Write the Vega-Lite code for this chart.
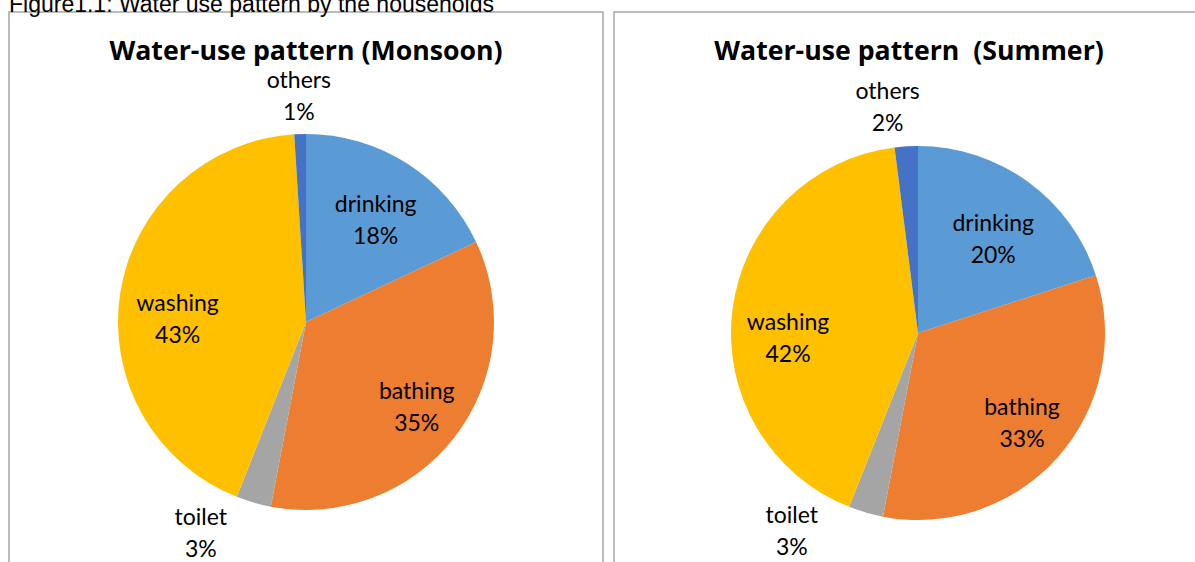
{
  "$schema": "https://vega.github.io/schema/vega-lite/v6.json",
  "background": "white",
  "padding": {"left": 8, "top": -6, "right": 0, "bottom": 0},
  "title": {"text": "Figure1.1: Water use pattern by the households", "anchor": "start", "frame": "group", "font": "Liberation Sans", "fontSize": 23, "fontWeight": "normal", "color": "#000000", "baseline": "alphabetic", "offset": -24},
  "config": {
    "view": {"stroke": "#A6A6A6", "strokeWidth": 1.5},
    "style": {"cell": {"stroke": "#A6A6A6", "strokeWidth": 1.5}},
    "concat": {"spacing": 9},
    "text": {"font": "Lato", "fontSize": 23, "color": "#000000", "lineBreak": "\n", "lineHeight": 32}
  },
  "datasets": {
    "monsoon": [
      {"use": "drinking", "pct": 18, "order": 1, "label": "drinking\n18%"},
      {"use": "bathing", "pct": 35, "order": 2, "label": "bathing\n35%"},
      {"use": "toilet", "pct": 3, "order": 3, "label": "toilet\n3%"},
      {"use": "washing", "pct": 43, "order": 4, "label": "washing\n43%"},
      {"use": "others", "pct": 1, "order": 5, "label": "others\n1%"}
    ],
    "summer": [
      {"use": "drinking", "pct": 20, "order": 1, "label": "drinking\n20%"},
      {"use": "bathing", "pct": 33, "order": 2, "label": "bathing\n33%"},
      {"use": "toilet", "pct": 3, "order": 3, "label": "toilet\n3%"},
      {"use": "washing", "pct": 42, "order": 4, "label": "washing\n42%"},
      {"use": "others", "pct": 2, "order": 5, "label": "others\n2%"}
    ]
  },
  "hconcat": [
    {
      "width": 594,
      "height": 620,
      "view": {"stroke": "#A6A6A6", "strokeWidth": 1.5},
      "data": {"name": "monsoon"},
      "title": {"text": "Water-use pattern (Monsoon)", "font": "Open Sans", "fontSize": 26.7, "fontWeight": "bold", "color": "#000000", "offset": -54, "anchor": "middle"},
      "encoding": {
        "theta": {"field": "pct", "type": "quantitative", "stack": true},
        "order": {"field": "order", "type": "quantitative"}
      },
      "layer": [
        {
          "mark": {"type": "arc", "outerRadius": 188},
          "encoding": {
            "color": {"field": "use", "type": "nominal", "legend": null,
              "scale": {"domain": ["drinking", "bathing", "toilet", "washing", "others"], "range": ["#5B9BD5", "#ED7D31", "#A5A5A5", "#FFC000", "#4472C4"]}}
          }
        },
        {
          "mark": {"type": "text", "radius": 130, "dy": -7},
          "encoding": {"text": {"field": "label", "type": "nominal", "condition": {"test": "datum.use != 'drinking'", "value": ""}}}
        },
        {
          "mark": {"type": "text", "radius": 130, "dx": 8, "dy": -10},
          "encoding": {"text": {"field": "label", "type": "nominal", "condition": {"test": "datum.use != 'bathing'", "value": ""}}}
        },
        {
          "mark": {"type": "text", "radius": 130, "dy": 2},
          "encoding": {"text": {"field": "label", "type": "nominal", "condition": {"test": "datum.use != 'washing'", "value": ""}}}
        },
        {
          "mark": {"type": "text", "radius": 230, "dx": -41, "dy": -25},
          "encoding": {"text": {"field": "label", "type": "nominal", "condition": {"test": "datum.use != 'toilet'", "value": ""}}}
        },
        {
          "mark": {"type": "text", "radius": 226, "dy": -15},
          "encoding": {"text": {"field": "label", "type": "nominal", "condition": {"test": "datum.use != 'others'", "value": ""}}}
        }
      ]
    },
    {
      "width": 608,
      "height": 642,
      "view": {"stroke": "#A6A6A6", "strokeWidth": 1.5},
      "data": {"name": "summer"},
      "title": {"text": "Water-use pattern \u00a0(Summer)", "font": "Open Sans", "fontSize": 26.7, "fontWeight": "bold", "color": "#000000", "offset": -54, "dx": -9, "anchor": "middle"},
      "encoding": {
        "theta": {"field": "pct", "type": "quantitative", "stack": true},
        "order": {"field": "order", "type": "quantitative"}
      },
      "layer": [
        {
          "mark": {"type": "arc", "outerRadius": 187},
          "encoding": {
            "color": {"field": "use", "type": "nominal", "legend": null,
              "scale": {"domain": ["drinking", "bathing", "toilet", "washing", "others"], "range": ["#5B9BD5", "#ED7D31", "#A5A5A5", "#FFC000", "#4472C4"]}}
          }
        },
        {
          "mark": {"type": "text", "radius": 128, "dy": -5},
          "encoding": {"text": {"field": "label", "type": "nominal", "condition": {"test": "datum.use != 'drinking'", "value": ""}}}
        },
        {
          "mark": {"type": "text", "radius": 128, "dx": 8, "dy": -10},
          "encoding": {"text": {"field": "label", "type": "nominal", "condition": {"test": "datum.use != 'bathing'", "value": ""}}}
        },
        {
          "mark": {"type": "text", "radius": 131, "dy": 6},
          "encoding": {"text": {"field": "label", "type": "nominal", "condition": {"test": "datum.use != 'washing'", "value": ""}}}
        },
        {
          "mark": {"type": "text", "radius": 230, "dx": -62, "dy": -38},
          "encoding": {"text": {"field": "label", "type": "nominal", "condition": {"test": "datum.use != 'toilet'", "value": ""}}}
        },
        {
          "mark": {"type": "text", "radius": 229, "dx": -16, "dy": -12},
          "encoding": {"text": {"field": "label", "type": "nominal", "condition": {"test": "datum.use != 'others'", "value": ""}}}
        }
      ]
    }
  ]
}
